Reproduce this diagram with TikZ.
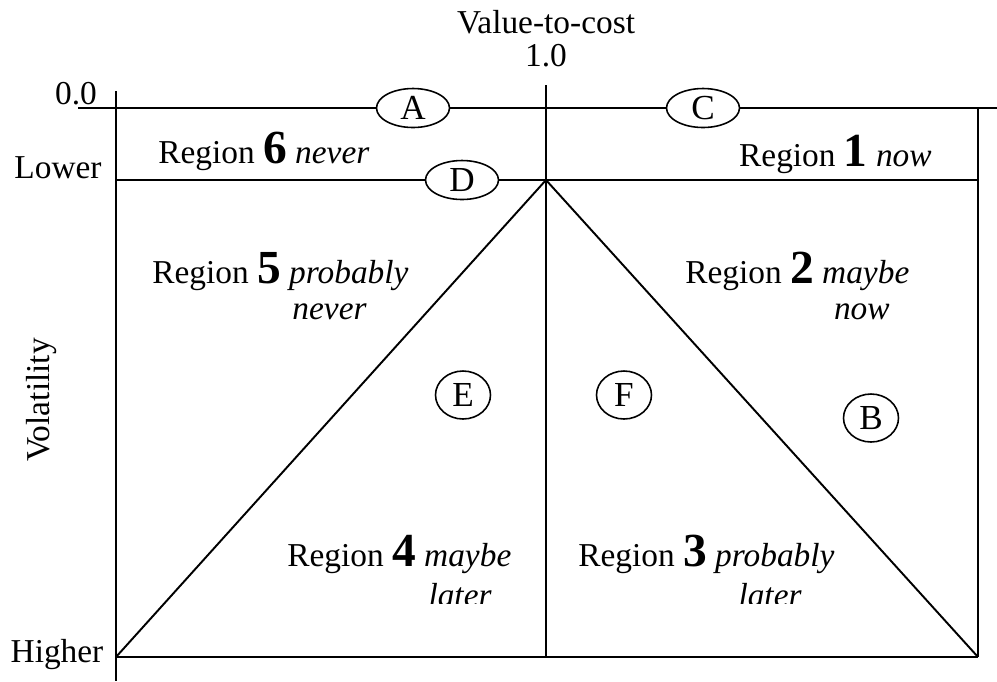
\documentclass[tikz,border=0pt]{standalone}
\usepackage{fontspec}
\setmainfont{Liberation Serif}
\usetikzlibrary{shapes.geometric}
\newcommand\rnum[1]{{\fontsize{27}{27}\selectfont\bfseries #1}}
\tikzset{
  ln/.style={line width=1.1pt},
  lab/.style={font=\fontsize{19}{22}\selectfont, inner sep=0pt},
  oval/.style={ellipse, draw, line width=0.9pt, fill=white, inner sep=0pt,
    font=\fontsize{20}{22}\selectfont},
  flat/.style={oval, minimum width=1.46cm, minimum height=0.78cm},
  round/.style={oval, minimum width=1.1cm, minimum height=0.96cm}
}
\begin{document}
\begin{tikzpicture}[x=0.02cm,y=-0.02cm]
\useasboundingbox (0,0) rectangle (997,681);
% coordinates
\coordinate (axtop) at (116,91);
\coordinate (axbot) at (116,681);
\coordinate (topL) at (78,108);
\coordinate (topR) at (997,108);
\coordinate (trc) at (978,108);
\coordinate (lowL) at (116,180);
\coordinate (lowR) at (978,180);
\coordinate (apex) at (546,180);
\coordinate (ctop) at (546,85);
\coordinate (cbot) at (546,657);
\coordinate (bl) at (116,657);
\coordinate (br) at (978,657);
% labels
\node[lab] (vtc) at (546,22) {Value-to-cost};
\node[lab] (one) at (546,56) {1.0};
\node[lab] (zero) at (76,94) {0.0};
\node[lab] (lower) at (58,168) {Lower};
\node[lab] (higher) at (57,655) {Higher};
\node[lab, rotate=90] (vol) at (42,400) {Volatility};
% ovals
\node[flat] (A) at (413,108) {A};
\node[flat] (C) at (703,108) {C};
\node[flat] (D) at (462,180) {D};
\node[round] (E) at (463,395) {E};
\node[round] (F) at (624,395) {F};
\node[round] (B) at (871,418) {B};
% lines
\draw[ln] (axtop) -- (axbot);
\draw[ln] (topL) -- (A.west);
\draw[ln] (A.east) -- (C.west);
\draw[ln] (C.east) -- (topR);
\draw[ln] (trc) -- (br);
\draw[ln] (lowL) -- (D.west);
\draw[ln] (D.east) -- (lowR);
\draw[ln] (ctop) -- (cbot);
\draw[ln] (apex) -- (bl);
\draw[ln] (apex) -- (br);
\draw[ln] (bl) -- (br);
% region texts
\node[lab, anchor=base west] (r6) at (158,163) {Region \rnum{6} \textit{never}};
\node[lab, anchor=base east] (r1) at (932,166) {Region \rnum{1} \textit{now}};
\node[lab, anchor=base west] (r5a) at (152,283) {Region \rnum{5} \textit{probably}};
\node[lab, anchor=base east] (r5b) at (367,319) {\textit{never}};
\node[lab, anchor=base west] (r2a) at (685,283) {Region \rnum{2} \textit{maybe}};
\node[lab, anchor=base east] (r2b) at (890,319) {\textit{now}};
\node[lab, anchor=base west] (r4a) at (287,566) {Region \rnum{4} \textit{maybe}};
\node[lab, anchor=base west] (r3a) at (578,566) {Region \rnum{3} \textit{probably}};
\begin{scope}
\clip (300,580) rectangle (850,603);
\node[lab, anchor=base east] (r4b) at (492,606) {\textit{later}};
\node[lab, anchor=base east] (r3b) at (802,606) {\textit{later}};
\end{scope}
\end{tikzpicture}
\end{document}
